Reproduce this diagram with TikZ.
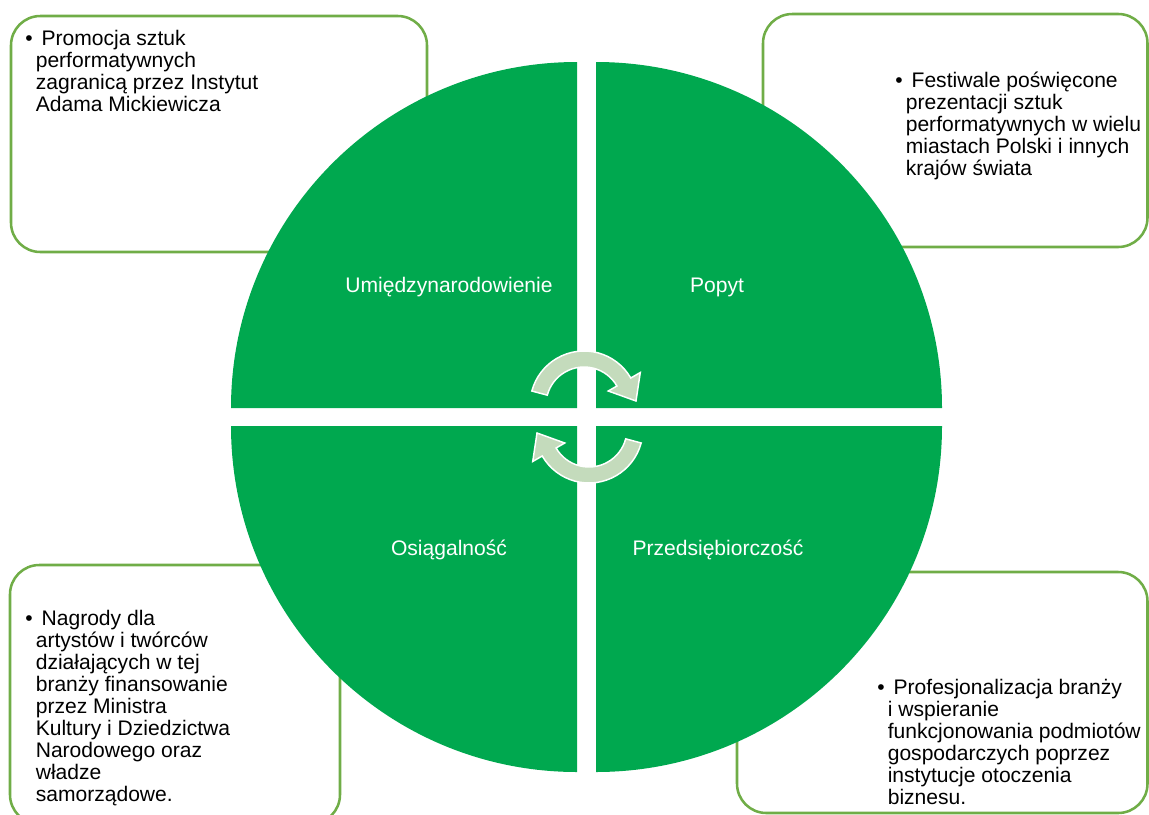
\documentclass[tikz,border=0pt]{standalone}
\usepackage{fontspec}
\setmainfont{Liberation Sans}
\definecolor{cmGreen}{HTML}{00A84F}
\definecolor{cmLine}{HTML}{70AD47}
\definecolor{cmArrow}{HTML}{C4DBBC}
\tikzset{
  cm box/.style={draw=cmLine, line width=1.9pt, fill=white, rounded corners=22pt},
  cm quadrant/.style={fill=cmGreen},
  cm arrow/.style={fill=cmArrow, draw=white, line width=1.1pt},
  cm label/.style={font=\fontsize{15.8}{18}\selectfont, text=white, inner sep=0pt, anchor=base},
  cm text/.style={font=\fontsize{15.8}{16.5}\selectfont, align=left, anchor=base west, inner sep=0pt},
}
\newcommand{\cmbul}{\makebox[7.9pt][l]{\textbullet}\ }
\newcommand{\cmind}{\hspace*{7.9pt}}

\begin{document}
\begin{tikzpicture}[x=0.75pt,y=-0.75pt]
  \useasboundingbox (0,0) rectangle (1149,814);
  \foreach \xa/\ya/\xb/\yb in {11/16/427/252, 763/14/1147.5/247, 10/565/340/824, 737/572/1147.5/813}
    \draw[cm box] (\xa,\ya) rectangle (\xb,\yb);
  \foreach \cx/\cy/\a in {577/408/180, 596/408/270, 596/426/0, 577/426/90}
    \fill[cm quadrant] (\cx,\cy) -- ++(\a:346) arc[start angle=\a, delta angle=90, radius=346] -- cycle;
  \foreach \r in {0,180}
    \draw[cm arrow, rotate around={\r:(586.5,417)}, shift={(584,405)}]
      (195:54) arc[start angle=195, end angle=330, radius=54]
      -- (330:65) -- (52,-4) -- (330:28) -- (330:38)
      arc[start angle=330, end angle=195, radius=38] -- cycle;
  \node[cm label] (umi) at (449,292) {Umiędzynarodowienie};
  \node[cm label] (popyt) at (717,292) {Popyt};
  \node[cm label] (osiag) at (449,555) {Osiągalność};
  \node[cm label] (przed) at (718,555) {Przedsiębiorczość};
  \node[cm text] (promo) at (25,111.7) {\cmbul Promocja sztuk\\\cmind performatywnych\\\cmind zagranicą przez Instytut\\\cmind Adama Mickiewicza};
  \node[cm text] (fest) at (895,175) {\cmbul Festiwale poświęcone\\\cmind prezentacji sztuk\\\cmind performatywnych w wielu\\\cmind miastach Polski i innych\\\cmind krajów świata};
  \node[cm text] (nagr) at (25,801) {\cmbul Nagrody dla\\\cmind artystów i twórców\\\cmind działających w tej\\\cmind branży finansowanie\\\cmind przez Ministra\\\cmind Kultury i Dziedzictwa\\\cmind Narodowego oraz\\\cmind władze\\\cmind samorządowe.};
  \node[cm text] (prof) at (877,804) {\cmbul Profesjonalizacja branży\\\cmind i wspieranie\\\cmind funkcjonowania podmiotów\\\cmind gospodarczych poprzez\\\cmind instytucje otoczenia\\\cmind biznesu.};
\end{tikzpicture}
\end{document}
